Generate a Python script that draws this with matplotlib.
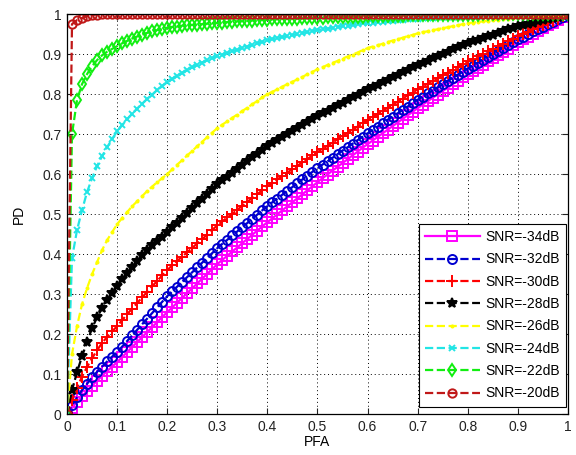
import matplotlib
matplotlib.use('Agg')
import matplotlib.pyplot as plt

plt.rcParams['font.family'] = ['Liberation Sans', 'DejaVu Sans']

# PFA 축 (0:0.01:1)
pfa = [0.00, 0.01, 0.02, 0.03, 0.04, 0.05, 0.06, 0.07, 0.08, 0.09,
       0.10, 0.11, 0.12, 0.13, 0.14, 0.15, 0.16, 0.17, 0.18, 0.19,
       0.20, 0.21, 0.22, 0.23, 0.24, 0.25, 0.26, 0.27, 0.28, 0.29,
       0.30, 0.31, 0.32, 0.33, 0.34, 0.35, 0.36, 0.37, 0.38, 0.39,
       0.40, 0.41, 0.42, 0.43, 0.44, 0.45, 0.46, 0.47, 0.48, 0.49,
       0.50, 0.51, 0.52, 0.53, 0.54, 0.55, 0.56, 0.57, 0.58, 0.59,
       0.60, 0.61, 0.62, 0.63, 0.64, 0.65, 0.66, 0.67, 0.68, 0.69,
       0.70, 0.71, 0.72, 0.73, 0.74, 0.75, 0.76, 0.77, 0.78, 0.79,
       0.80, 0.81, 0.82, 0.83, 0.84, 0.85, 0.86, 0.87, 0.88, 0.89,
       0.90, 0.91, 0.92, 0.93, 0.94, 0.95, 0.96, 0.97, 0.98, 0.99,
       1.00]

pd_34 = [0,
         0.016, 0.031, 0.045, 0.058, 0.071, 0.084, 0.096, 0.108, 0.119, 0.130,
         0.143, 0.155, 0.168, 0.180, 0.193, 0.205, 0.218, 0.230, 0.243, 0.255,
         0.267, 0.279, 0.291, 0.303, 0.315, 0.327, 0.339, 0.351, 0.363, 0.375,
         0.386, 0.396, 0.407, 0.417, 0.428, 0.438, 0.449, 0.459, 0.470, 0.480,
         0.490, 0.500, 0.510, 0.520, 0.530, 0.540, 0.550, 0.560, 0.570, 0.580,
         0.590, 0.599, 0.609, 0.618, 0.628, 0.637, 0.647, 0.656, 0.666, 0.675,
         0.684, 0.693, 0.702, 0.711, 0.720, 0.729, 0.738, 0.747, 0.756, 0.765,
         0.774, 0.782, 0.791, 0.799, 0.808, 0.816, 0.825, 0.833, 0.842, 0.850,
         0.858, 0.866, 0.874, 0.882, 0.890, 0.898, 0.906, 0.914, 0.922, 0.930,
         0.937, 0.944, 0.951, 0.958, 0.965, 0.972, 0.979, 0.986, 0.993, 1.000]

pd_32 = [0,
         0.022, 0.042, 0.060, 0.076, 0.092, 0.106, 0.119, 0.132, 0.144, 0.155,
         0.169, 0.183, 0.197, 0.211, 0.225, 0.239, 0.253, 0.267, 0.281, 0.295,
         0.307, 0.319, 0.331, 0.343, 0.355, 0.367, 0.379, 0.391, 0.403, 0.415,
         0.426, 0.436, 0.447, 0.457, 0.468, 0.478, 0.489, 0.499, 0.510, 0.520,
         0.530, 0.539, 0.549, 0.558, 0.568, 0.577, 0.587, 0.596, 0.606, 0.615,
         0.624, 0.632, 0.641, 0.650, 0.659, 0.667, 0.676, 0.685, 0.693, 0.702,
         0.710, 0.719, 0.727, 0.736, 0.744, 0.752, 0.761, 0.769, 0.778, 0.786,
         0.794, 0.802, 0.809, 0.817, 0.825, 0.833, 0.841, 0.848, 0.856, 0.864,
         0.871, 0.879, 0.886, 0.894, 0.901, 0.908, 0.916, 0.923, 0.931, 0.938,
         0.944, 0.950, 0.957, 0.963, 0.969, 0.975, 0.981, 0.988, 0.994, 1.000]

pd_30 = [0,
         0.035, 0.066, 0.094, 0.118, 0.140, 0.160, 0.178, 0.193, 0.207, 0.220,
         0.235, 0.250, 0.264, 0.278, 0.292, 0.306, 0.320, 0.333, 0.347, 0.360,
         0.372, 0.383, 0.394, 0.405, 0.416, 0.427, 0.438, 0.449, 0.461, 0.472,
         0.482, 0.492, 0.501, 0.511, 0.521, 0.531, 0.541, 0.550, 0.560, 0.570,
         0.579, 0.587, 0.596, 0.604, 0.613, 0.621, 0.630, 0.638, 0.647, 0.655,
         0.663, 0.671, 0.679, 0.687, 0.695, 0.703, 0.711, 0.719, 0.727, 0.735,
         0.743, 0.750, 0.758, 0.766, 0.774, 0.781, 0.789, 0.797, 0.804, 0.812,
         0.819, 0.826, 0.833, 0.840, 0.847, 0.854, 0.861, 0.868, 0.875, 0.882,
         0.888, 0.895, 0.901, 0.907, 0.914, 0.920, 0.926, 0.932, 0.939, 0.945,
         0.951, 0.956, 0.962, 0.967, 0.973, 0.978, 0.984, 0.989, 0.995, 1.000]

pd_28 = [0,
         0.060, 0.105, 0.145, 0.180, 0.215, 0.242, 0.265, 0.285, 0.303, 0.320,
         0.337, 0.353, 0.368, 0.383, 0.397, 0.410, 0.422, 0.433, 0.444, 0.455,
         0.467, 0.479, 0.491, 0.503, 0.515, 0.527, 0.539, 0.551, 0.563, 0.575,
         0.585, 0.594, 0.604, 0.613, 0.623, 0.632, 0.642, 0.651, 0.661, 0.670,
         0.678, 0.685, 0.693, 0.700, 0.708, 0.715, 0.723, 0.730, 0.738, 0.745,
         0.752, 0.758, 0.765, 0.772, 0.779, 0.785, 0.792, 0.799, 0.805, 0.812,
         0.818, 0.824, 0.830, 0.836, 0.843, 0.849, 0.855, 0.861, 0.867, 0.873,
         0.879, 0.884, 0.890, 0.895, 0.901, 0.906, 0.912, 0.917, 0.923, 0.928,
         0.932, 0.936, 0.941, 0.945, 0.949, 0.953, 0.957, 0.962, 0.966, 0.970,
         0.973, 0.976, 0.979, 0.982, 0.985, 0.988, 0.991, 0.994, 0.997, 1.000]

pd_26 = [0,
         0.150, 0.220, 0.275, 0.315, 0.350, 0.380, 0.410, 0.435, 0.455, 0.475,
         0.490, 0.505, 0.520, 0.532, 0.545, 0.558, 0.569, 0.580, 0.590, 0.600,
         0.612, 0.624, 0.635, 0.647, 0.658, 0.670, 0.681, 0.693, 0.704, 0.715,
         0.724, 0.732, 0.741, 0.749, 0.758, 0.766, 0.775, 0.783, 0.792, 0.800,
         0.806, 0.812, 0.819, 0.825, 0.831, 0.837, 0.843, 0.850, 0.856, 0.862,
         0.867, 0.873, 0.878, 0.883, 0.889, 0.894, 0.899, 0.904, 0.910, 0.915,
         0.919, 0.922, 0.926, 0.930, 0.934, 0.937, 0.941, 0.945, 0.948, 0.952,
         0.955, 0.957, 0.960, 0.962, 0.965, 0.967, 0.970, 0.972, 0.975, 0.977,
         0.979, 0.980, 0.982, 0.983, 0.985, 0.986, 0.988, 0.989, 0.991, 0.992,
         0.993, 0.994, 0.995, 0.996, 0.996, 0.997, 0.998, 0.999, 0.999, 1.000]

pd_24 = [0,
         0.390, 0.460, 0.510, 0.555, 0.590, 0.620, 0.645, 0.667, 0.688, 0.707,
         0.722, 0.737, 0.751, 0.764, 0.776, 0.788, 0.799, 0.810, 0.820, 0.830,
         0.838, 0.846, 0.853, 0.860, 0.867, 0.873, 0.879, 0.885, 0.890, 0.895,
         0.899, 0.903, 0.907, 0.911, 0.915, 0.919, 0.923, 0.927, 0.931, 0.935,
         0.938, 0.940, 0.943, 0.945, 0.948, 0.950, 0.953, 0.955, 0.958, 0.960,
         0.962, 0.964, 0.966, 0.968, 0.970, 0.971, 0.973, 0.975, 0.977, 0.978,
         0.979, 0.980, 0.981, 0.982, 0.984, 0.985, 0.986, 0.987, 0.988, 0.989,
         0.990, 0.990, 0.991, 0.992, 0.992, 0.993, 0.994, 0.994, 0.995, 0.996,
         0.996, 0.996, 0.997, 0.997, 0.997, 0.998, 0.998, 0.998, 0.999, 0.999,
         0.999, 0.999, 1.000, 1.000, 1.000, 1.000, 1.000, 1.000, 1.000, 1.000]

pd_22 = [0,
         0.700, 0.785, 0.825, 0.850, 0.870, 0.885, 0.897, 0.906, 0.913, 0.920,
         0.927, 0.933, 0.939, 0.944, 0.949, 0.953, 0.957, 0.960, 0.963, 0.966,
         0.968, 0.969, 0.971, 0.972, 0.973, 0.974, 0.975, 0.976, 0.977, 0.978,
         0.979, 0.980, 0.981, 0.982, 0.982, 0.983, 0.984, 0.985, 0.985, 0.986,
         0.987, 0.987, 0.988, 0.988, 0.989, 0.989, 0.990, 0.990, 0.991, 0.991,
         0.991, 0.992, 0.992, 0.993, 0.993, 0.993, 0.994, 0.994, 0.994, 0.995,
         0.995, 0.995, 0.995, 0.996, 0.996, 0.996, 0.996, 0.997, 0.997, 0.997,
         0.997, 0.998, 0.998, 0.998, 0.998, 0.998, 0.999, 0.999, 0.999, 0.999,
         0.999, 0.999, 1.000, 1.000, 1.000, 1.000, 1.000, 1.000, 1.000, 1.000,
         1.000, 1.000, 1.000, 1.000, 1.000, 1.000, 1.000, 1.000, 1.000, 1.000]

pd_20 = [0, 0.975, 0.985, 0.990, 0.995, 0.998, 0.999] + [1.0] * 94

labels = ['SNR=-34dB', 'SNR=-32dB', 'SNR=-30dB', 'SNR=-28dB',
          'SNR=-26dB', 'SNR=-24dB', 'SNR=-22dB', 'SNR=-20dB']

fig = plt.figure(figsize=(5.76, 4.55), dpi=100)
ax = fig.add_axes([0.1163, 0.0895, 0.8698, 0.8795])

# (데이터, 색, 선, 마커, 마커크기, 채움)
curves = [
    (pd_34, '#FF00FF', '-', 's', 6.5, 'none'),
    (pd_32, '#0000D0', '--', 'o', 6.5, 'none'),
    (pd_30, '#FF0000', '--', '+', 8, 'none'),
    (pd_28, '#000000', '--', '*', 7, '#000000'),
    (pd_26, '#FFFF00', '--', '.', 3, 'none'),
    (pd_24, '#22E5E5', '--', 'x', 5, 'none'),
    (pd_22, '#11EE11', '--', 'd', 6.5, 'none'),
    (pd_20, '#C01818', '--', 'o', 6, 'none'),
]

for (pd, col, ls, mk, ms, fc), lab in zip(curves, labels):
    ax.plot(pfa, pd, color=col, linestyle=ls, marker=mk, markersize=ms,
            markerfacecolor=fc, markeredgewidth=1.4, linewidth=1.6,
            label=lab)

ax.set_xlim(0, 1)
ax.set_ylim(0, 1)
ticks = [0, 0.1, 0.2, 0.3, 0.4, 0.5, 0.6, 0.7, 0.8, 0.9, 1]
tick_labels = ['0', '0.1', '0.2', '0.3', '0.4', '0.5', '0.6', '0.7', '0.8', '0.9', '1']
ax.set_xticks(ticks)
ax.set_xticklabels(tick_labels)
ax.set_yticks(ticks)
ax.set_yticklabels(tick_labels)
ax.tick_params(axis='both', direction='in', length=4, width=0.8,
               top=True, right=True, labelsize=10, pad=4, colors='#222222')
ax.grid(True, color='black', linestyle=(0, (1, 3)), linewidth=0.7)
for s in ax.spines.values():
    s.set_linewidth(0.9)

ax.set_xlabel('PFA', fontsize=10, labelpad=1)
ax.set_ylabel('PD', fontsize=10, labelpad=12)

leg = ax.legend(loc='lower right', bbox_to_anchor=(0.996, 0.019),
                fontsize=10, handlelength=3.9, labelspacing=0.6,
                borderpad=0.45, handletextpad=0.4, borderaxespad=0,
                fancybox=False, framealpha=1, edgecolor='black')
leg.get_frame().set_linewidth(0.8)

fig.savefig('out.png', dpi=100)
